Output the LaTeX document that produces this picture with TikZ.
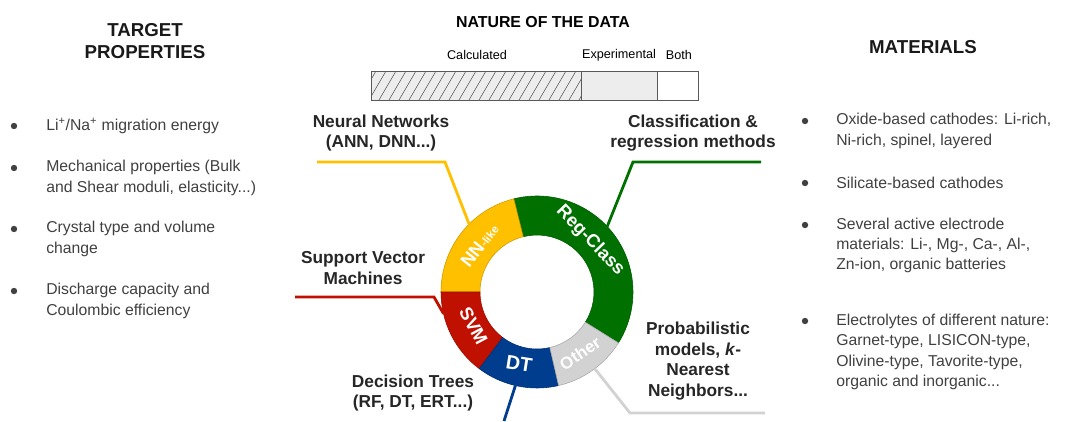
\documentclass[tikz,border=0pt]{standalone}
\usepackage{fontspec}
\setmainfont{Liberation Sans}
\usepackage{tikz}
\definecolor{nnyellow}{RGB}{255,192,0}
\definecolor{rcgreen}{RGB}{0,112,0}
\definecolor{svmred}{RGB}{192,16,0}
\definecolor{dtblue}{RGB}{0,61,143}
\definecolor{othgrey}{RGB}{210,210,210}
\definecolor{txtgrey}{RGB}{64,64,64}
\tikzstyle{bul}=[circle, inner sep=0pt, minimum size=1.6mm, fill=txtgrey]
\tikzstyle{itemtxt}=[anchor=west, align=left, inner sep=0pt, text=txtgrey, font=\fontsize{11.2}{14.5}\selectfont]

\begin{document}
\begin{tikzpicture}[x=0.025cm, y=0.025cm, yscale=-1,
    heading/.style={font=\bfseries\fontsize{13.3}{15.5}\selectfont, align=center, text=black!90},
    mlabel/.style={font=\bfseries\fontsize{12.3}{14.8}\selectfont, align=center, text=black!85},
    seglab/.style={text=white, inner sep=0pt},
    lead/.style={line width=2pt}]
    \useasboundingbox (0,0) rectangle (1070,421);

    \node[font=\bfseries\fontsize{11.3}{12}\selectfont] (natur) at (543,22) {NATURE OF THE DATA};
    \node[font=\fontsize{9}{10}\selectfont] (calc) at (477,55) {Calculated};
    \node[font=\fontsize{9}{10}\selectfont] (expt) at (619,55) {Experimental};
    \node[font=\fontsize{9}{10}\selectfont] (both) at (679,55) {Both};
    \fill[black!7] (371,71) rectangle (657,100);
    \begin{scope}
      \clip (371,71) rectangle (581,100);
      \foreach \i in {0,...,23}{
        \draw[black!65, line width=0.4pt] (359+\i*10,100) -- ++(17,-29);
      }
    \end{scope}
    \draw[black!65] (371,71) rectangle (581,100) (581,71) rectangle (657,100) (657,71) rectangle (698,100);

    \node[heading] (tprop) at (145,41) {TARGET\\PROPERTIES};
    \foreach \y [count = \i] in {126,168,229,291}{
      \node[bul] (lb\i) at (14,\y) {};
    }
    \node[itemtxt] (lt1) at (46,126) {Li\textsuperscript{+}/Na\textsuperscript{+} migration energy};
    \node[itemtxt] (lt2) at (46,178) {Mechanical properties (Bulk\\and Shear moduli, elasticity...)};
    \node[itemtxt] (lt3) at (46,239) {Crystal type and volume\\change};
    \node[itemtxt] (lt4) at (46,301) {Discharge capacity and\\Coulombic efficiency};

    \node[heading] (mats) at (923,47) {MATERIALS};
    \foreach \y [count = \i] in {121,183,225,321}{
      \node[bul] (rb\i) at (805,\y) {};
    }
    \node[itemtxt] (rt1) at (836,131) {Oxide-based cathodes: Li-rich,\\Ni-rich, spinel, layered};
    \node[itemtxt] (rt2) at (836,183) {Silicate-based cathodes};
    \node[itemtxt] (rt3) at (836,245.5) {Several active electrode\\materials: Li-, Mg-, Ca-, Al-,\\Zn-ion, organic batteries};
    \node[itemtxt] (rt4) at (836,352) {Electrolytes of different nature:\\Garnet-type, LISICON-type,\\Olivine-type, Tavorite-type,\\organic and inorganic...};

    \begin{scope}[shift={(537,292)}, yscale=-1]
      \foreach \a/\b/\c in {-32/104/rcgreen, 104/180/nnyellow, 180/233/svmred, 233/283/dtblue, 283/328/othgrey}{
        \filldraw[fill=\c, draw=\c!80!black, line width=0.4pt] (\a:57) arc[start angle=\a, end angle=\b, radius=57] -- (\b:96) arc[start angle=\b, end angle=\a, radius=96] -- cycle;
      }
      \coordinate (nnring) at (135:96);
      \coordinate (rcring) at (43:96);
      \coordinate (svmring) at (193:96);
      \coordinate (dtring) at (257:96);
      \coordinate (othring) at (-53:96);
      \node[seglab, rotate=-46, font=\bfseries\fontsize{13}{14}\selectfont] (rcseg) at (44:74) {Reg-Class};
      \node[seglab, rotate=52, font=\bfseries\fontsize{13}{14}\selectfont] (nnseg) at (141:74) {NN{\fontsize{8}{8}\selectfont-like}};
      \node[seglab, rotate=-62, font=\bfseries\fontsize{13}{14}\selectfont] (svmseg) at (208:72) {SVM};
      \node[seglab, rotate=-9, font=\bfseries\fontsize{14}{14}\selectfont] (dtseg) at (256:74) {DT};
      \node[seglab, rotate=34, font=\bfseries\fontsize{12}{14}\selectfont] (othseg) at (-55:75) {Other};
    \end{scope}

    \node[mlabel] (nnlab) at (381,133) {Neural Networks\\(ANN, DNN...)};
    \node[mlabel] (rclab) at (693,133) {Classification \&\\regression methods};
    \node[mlabel] (svmlab) at (363,268) {Support Vector\\Machines};
    \node[mlabel] (dtlab) at (413,393) {Decision Trees\\(RF, DT, ERT...)};
    \node[mlabel] (othlab) at (698,361) {Probabilistic\\models, \textit{k}-\\Nearest\\Neighbors...};

    \coordinate (nnend) at (317,162);
    \coordinate (rcend) at (761,162);
    \coordinate (svmend) at (295,297);
    \coordinate (dtend) at (504,421);
    \coordinate (othend) at (765,413);
    \draw[lead, nnyellow] (nnend) -- (445,162) -- (nnring);
    \draw[lead, rcgreen] (rcend) -- (633,162) -- (rcring);
    \draw[lead, svmred] (svmend) -- (434,297) -- (svmring);
    \draw[lead, dtblue] (dtring) -- (dtend);
    \draw[lead, othgrey] (othring) -- (630,413) -- (othend);
  \end{tikzpicture}
\end{document}
